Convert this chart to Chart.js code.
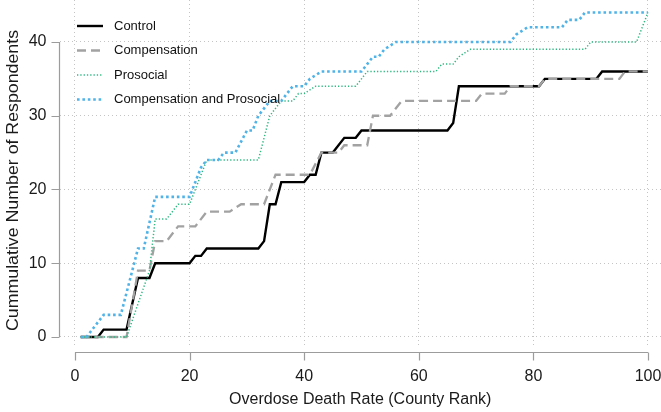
<!DOCTYPE html>
<html>
<head>
<meta charset="utf-8">
<script src="https://cdn.jsdelivr.net/npm/chart.js@4/dist/chart.umd.min.js"></script>
<style>
  html, body { margin: 0; padding: 0; background: #fff; }
</style>
</head>
<body>
<canvas id="cdfChart" width="661" height="412"></canvas>
<script>
const xTicks = [0, 20, 40, 60, 80, 100]
const yTicks = [0, 10, 20, 30, 40]
const yTitle = 'Cummulative Number of Respondents'

// vertices of each cumulative curve (county rank, cumulative respondents)
const controlX = [1, 4, 5, 9, 11, 13, 14, 20, 21, 22, 23, 32, 33, 34, 35, 36, 40, 41, 42, 43, 45, 47, 49, 50, 65, 66, 67, 81, 82, 91, 92, 100]
const controlY = [0, 0, 1, 1, 8, 8, 10, 10, 11, 11, 12, 12, 13, 18, 18, 21, 21, 22, 22, 25, 25, 27, 27, 28, 28, 29, 34, 34, 35, 35, 36, 36]

const compX = [1, 9, 11, 13, 14, 16, 18, 21, 23, 27, 29, 33, 35, 41, 43, 46, 47, 51, 52, 55, 57, 70, 71, 75, 76, 81, 82, 95, 96, 100]
const compY = [0, 0, 9, 9, 13, 13, 15, 15, 17, 17, 18, 18, 22, 22, 25, 25, 26, 26, 30, 30, 32, 32, 33, 33, 34, 34, 35, 35, 36, 36]

const prosX = [1, 9, 13, 14, 16, 18, 20, 21, 23, 32, 33, 34, 35, 36, 38, 39, 40, 42, 49, 51, 63, 64, 66, 67, 69, 89, 90, 98, 99, 100]
const prosY = [0, 0, 9, 16, 16, 18, 18, 20, 24, 24, 27, 30, 31, 32, 32, 33, 33, 34, 34, 36, 36, 37, 37, 38, 39, 39, 40, 40, 42, 44]

const bothX = [1, 2, 5, 8, 11, 12, 14, 20, 21, 22, 23, 25, 26, 28, 30, 31, 32, 33, 34, 36, 38, 40, 41, 43, 50, 51, 52, 53, 54, 56, 76, 77, 79, 85, 86, 88, 89, 100]
const bothY = [0, 0, 3, 3, 12, 12, 19, 19, 21, 23, 24, 24, 25, 25, 28, 28, 30, 31, 32, 32, 34, 34, 35, 36, 36, 37, 38, 38, 39, 40, 40, 41, 42, 42, 43, 43, 44, 44]

const toPoints = (xs, ys) => xs.map((v, i) => ({ x: v, y: ys[i] }))

const FONT = '"Liberation Sans", Arial, Helvetica, sans-serif'

// R style axes: lines only from first to last tick, set off from the plot
const rAxes = {
  id: 'rAxes',
  afterDraw(chart) {
    const { ctx, scales: { x, y } } = chart
    const axisY = 352.5
    const axisX = 59.5
    const tick = 8
    ctx.save()
    ctx.strokeStyle = '#9c9c9c'
    ctx.lineWidth = 1.2
    ctx.setLineDash([])
    ctx.beginPath()
    ctx.moveTo(x.getPixelForValue(xTicks[0]), axisY)
    ctx.lineTo(x.getPixelForValue(xTicks[xTicks.length - 1]), axisY)
    xTicks.forEach(v => {
      const px = Math.round(x.getPixelForValue(v)) + 0.5
      ctx.moveTo(px, axisY)
      ctx.lineTo(px, axisY + tick)
    })
    ctx.moveTo(axisX, y.getPixelForValue(yTicks[0]))
    ctx.lineTo(axisX, y.getPixelForValue(yTicks[yTicks.length - 1]))
    yTicks.forEach(v => {
      const py = Math.round(y.getPixelForValue(v)) + 0.5
      ctx.moveTo(axisX, py)
      ctx.lineTo(axisX - tick, py)
    })
    ctx.stroke()

    // y title, a little stretched along its length like the original
    ctx.translate(14, 180.5)
    ctx.rotate(-Math.PI / 2)
    ctx.scale(1.11, 1)
    ctx.font = '16px ' + FONT
    ctx.fillStyle = '#1a1a1a'
    ctx.textAlign = 'center'
    ctx.textBaseline = 'middle'
    ctx.fillText(yTitle, 0, 0)
    ctx.restore()
  }
}

const rLegend = {
  id: 'rLegend',
  afterDraw(chart) {
    const c = chart.ctx
    c.save()
    c.font = '13px ' + FONT
    c.textBaseline = 'middle'
    chart.data.datasets.forEach((ds, i) => {
      const y = 26 + i * 24.5
      c.strokeStyle = ds.borderColor
      c.lineWidth = ds.borderWidth
      c.setLineDash(ds.borderDash || [])
      c.beginPath()
      c.moveTo(77, y)
      c.lineTo(103, y)
      c.stroke()
      c.fillStyle = '#111'
      c.fillText(ds.label, 114, y)
    })
    c.restore()
  }
}

const gridOpts = {
  color: '#c4c4c4',
  lineWidth: 1,
  drawTicks: false
}

const chart = new Chart(document.getElementById('cdfChart'), {
  type: 'line',
  data: {
    datasets: [
      {
        label: 'Control',
        data: toPoints(controlX, controlY),
        borderColor: '#000000',
        borderWidth: 2.4,
        order: 4
      },
      {
        label: 'Compensation',
        data: toPoints(compX, compY),
        borderColor: '#a2a2a2',
        borderWidth: 2.3,
        borderDash: [9, 5],
        order: 3
      },
      {
        label: 'Prosocial',
        data: toPoints(prosX, prosY),
        borderColor: '#2fb882',
        borderWidth: 1.5,
        borderDash: [1.3, 2],
        order: 2
      },
      {
        label: 'Compensation and Prosocial',
        data: toPoints(bothX, bothY),
        borderColor: '#4fb3e8',
        borderWidth: 2.6,
        borderDash: [2.6, 2.8],
        order: 1
      }
    ]
  },
  options: {
    responsive: false,
    animation: false,
    devicePixelRatio: 1,
    elements: {
      point: { radius: 0 },
      line: { tension: 0, borderCapStyle: 'butt', borderJoinStyle: 'miter' }
    },
    layout: { padding: 0 },
    plugins: {
      legend: { display: false },
      tooltip: { enabled: false }
    },
    scales: {
      x: {
        type: 'linear',
        min: -2.7,
        max: 102.27,
        afterBuildTicks: s => { s.ticks = xTicks.map(v => ({ value: v })) },
        afterFit: s => { s.height = 67; s.paddingLeft = 0; s.paddingRight = 0 },
        grid: gridOpts,
        border: { display: false, dash: [1, 3] },
        ticks: { color: '#1a1a1a', padding: 22, maxRotation: 0, font: { family: FONT, size: 16 } },
        title: {
          display: true,
          text: 'Overdose Death Rate (County Rank)',
          color: '#1a1a1a',
          padding: { top: 0, bottom: 2.4 },
          font: { family: FONT, size: 16 }
        }
      },
      y: {
        type: 'linear',
        min: -1.085,
        max: 45.69,
        afterBuildTicks: s => { s.ticks = yTicks.map(v => ({ value: v })) },
        afterFit: s => { s.width = 59.5; s.paddingTop = 0; s.paddingBottom = 0 },
        grid: gridOpts,
        border: { display: false, dash: [1, 3] },
        ticks: { color: '#1a1a1a', padding: 13, font: { family: FONT, size: 16 } }
      }
    }
  },
  plugins: [rAxes, rLegend]
})
</script>
</body>
</html>
